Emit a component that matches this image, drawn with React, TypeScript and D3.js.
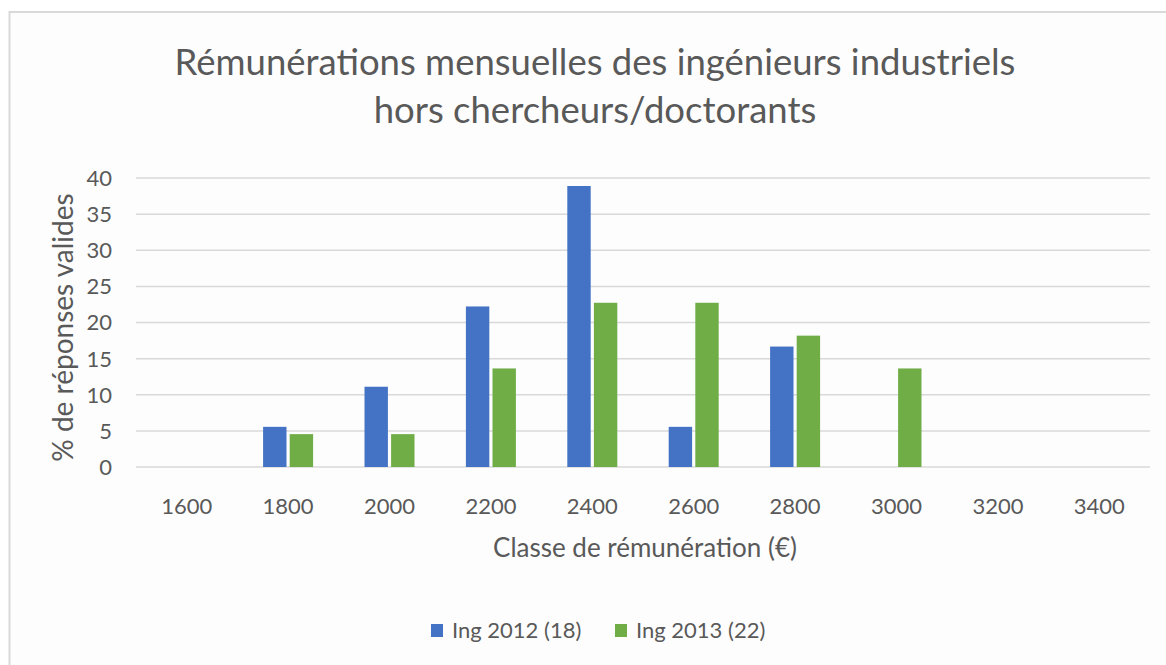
import React from "react";
import * as d3 from "d3";

const categories = ["1600", "1800", "2000", "2200", "2400", "2600", "2800", "3000", "3200", "3400"];
const series2012 = [0, 5.56, 11.11, 22.22, 38.89, 5.56, 16.67, 0, 0, 0];
const series2013 = [0, 4.55, 4.55, 13.64, 22.73, 22.73, 18.18, 13.64, 0, 0];
const seriesNames = ["Ing 2012 (18)", "Ing 2013 (22)"];
const seriesColors = ["#4472C4", "#70AD47"];
const yTicks = [0, 5, 10, 15, 20, 25, 30, 35, 40];
const titleLines = ["Rémunérations mensuelles des ingénieurs industriels", "hors chercheurs/doctorants"];
const xTitle = "Classe de rémunération (€)";
const yTitle = "% de réponses valides";

const W = 1166;
const H = 665;
const FONT = "Lato, 'Open Sans', sans-serif";
const TXT = "#595959";

export default function App() {
  const x = d3.scaleBand<string>().domain(categories).range([136, 1150]).paddingInner(0).paddingOuter(0);
  const y = d3.scaleLinear().domain([0, 40]).range([467, 178]);
  const inner = d3.scaleBand<number>().domain([0, 1]).range([-25, 25]).paddingInner(0.12);
  const allSeries = [series2012, series2013];

  return (
    <svg width={W} height={H} style={{ position: "fixed", left: 0, top: 0, background: "#fdfdfd" }} fontFamily={FONT}>
      <rect x={0} y={0} width={W} height={H} fill="#ffffff" />
      <rect x={9.5} y={12} width={W + 20} height={H + 20} fill="#fdfdfd" stroke="#d9d9d9" strokeWidth={2} />
      {titleLines.map((t, i) => (
        <text key={i} x={595} y={75 + i * 48} textAnchor="middle" fontSize={36.5} fill={TXT}>
          {t}
        </text>
      ))}
      {yTicks.map((t) => (
        <g key={t}>
          <line x1={136} x2={1150} y1={y(t)} y2={y(t)} stroke="#d9d9d9" strokeWidth={1.5} />
          <text x={112} y={y(t)} dy="0.36em" textAnchor="end" fontSize={22} fill={TXT}>
            {t}
          </text>
        </g>
      ))}
      {allSeries.map((s, si) =>
        s.map((v, ci) =>
          v > 0 ? (
            <rect
              key={`${si}-${ci}`}
              x={(x(categories[ci]) as number) + x.bandwidth() / 2 + (inner(si) as number)}
              y={y(v)}
              width={inner.bandwidth()}
              height={y(0) - y(v)}
              fill={seriesColors[si]}
            />
          ) : null
        )
      )}
      {categories.map((c) => (
        <text key={c} x={(x(c) as number) + x.bandwidth() / 2} y={514} textAnchor="middle" fontSize={22} fill={TXT}>
          {c}
        </text>
      ))}
      <text x={645} y={557} textAnchor="middle" fontSize={26} fill={TXT}>
        {xTitle}
      </text>
      <text transform={`translate(73,327.5) rotate(-90)`} textAnchor="middle" fontSize={28} fill={TXT}>
        {yTitle}
      </text>
      {seriesNames.map((n, i) => (
        <g key={n} transform={`translate(${431 + i * 184},624)`}>
          <rect x={0} y={0} width={12} height={13} fill={seriesColors[i]} />
          <text x={21} y={14} fontSize={22} fill={TXT}>
            {n}
          </text>
        </g>
      ))}
    </svg>
  );
}
